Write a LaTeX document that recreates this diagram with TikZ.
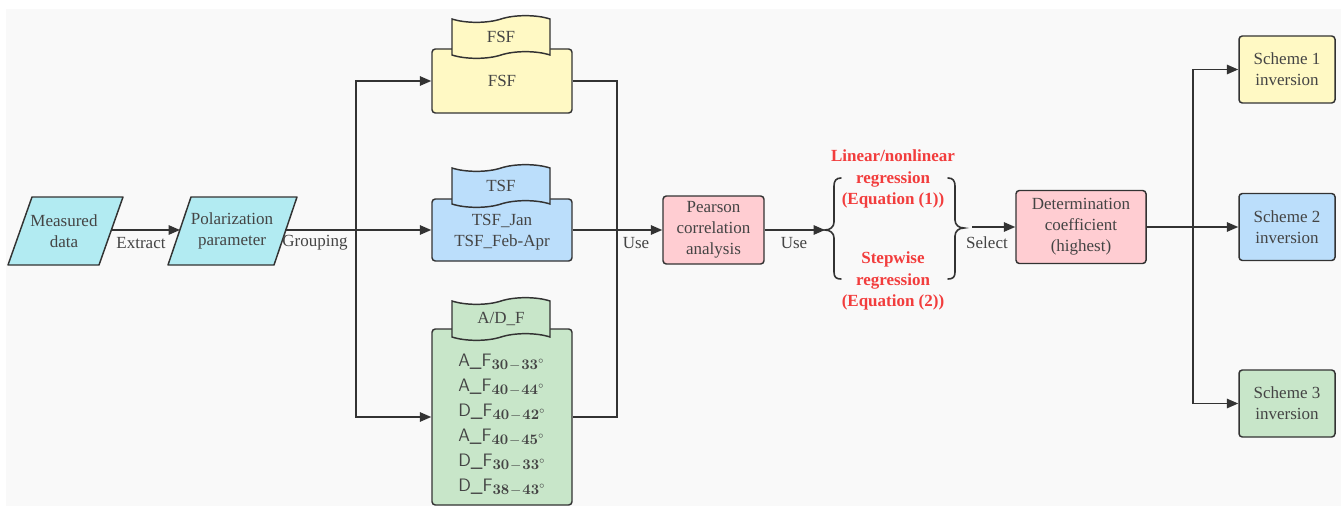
\documentclass[tikz,border=0pt]{standalone}
\usepackage[no-math]{fontspec}
\setmainfont{Liberation Serif}[Ligatures=TeX]
\usetikzlibrary{arrows.meta,shapes.symbols}
\definecolor{ink}{HTML}{333333}
\definecolor{txt}{HTML}{444444}
\definecolor{bgc}{HTML}{F9F9F9}
\definecolor{cyanf}{HTML}{B2EBF2}
\definecolor{yellowf}{HTML}{FFF9C4}
\definecolor{bluef}{HTML}{BBDEFB}
\definecolor{greenf}{HTML}{C8E6C9}
\definecolor{pinkf}{HTML}{FFCDD2}
\definecolor{redt}{RGB}{242,61,61}
% angle-range subscript: bold digits, tight minus, degree sign
\newcommand\angsub[2]{\raisebox{-2.2pt}{\fontsize{10.6}{12}\selectfont$\mathbf{#1}\mskip1mu{-}\mskip1mu\mathbf{#2}^{\circ}$}}
\begin{document}
\begin{tikzpicture}[x=0.75pt,y=-0.75pt,
  base/.style={text=txt,font=\fontsize{12.75}{15.75}\selectfont,align=center,inner sep=0pt},
  box/.style={base,draw=ink,line width=1.1pt,rounded corners=2.5pt},
  tag/.style={base,tape,draw=ink,line width=1.1pt,tape bend height=5pt,
    minimum width=73.5pt,minimum height=32pt},
  lbl/.style={base},
  redtxt/.style={base,text=redt,font=\bfseries\fontsize{12.75}{16.1}\selectfont},
  wire/.style={draw=ink,line width=1.2pt},
  arr/.style={wire,-{Triangle[length=8.5pt,width=7pt]}},
  para/.style={draw=ink,line width=1.1pt,fill=cyanf,line join=round}]

% page and backdrop
\fill[white] (0,0) rectangle (1341,506);
\fill[bgc] (6,9) rectangle (1341,506);
\useasboundingbox (0,0) rectangle (1341,506);

% input parallelograms
\draw[para] (32,197) -- (123,197) -- (99,265) -- (8,265) -- cycle;
\node[lbl] (md) at (64,231) {Measured\\data};
\coordinate (mdE) at (111,230);
\draw[para] (191,197) -- (297,197) -- (274,265) -- (168,265) -- cycle;
\node[lbl] (pp) at (232,231) {Polarization\\parameter};
\coordinate (ppW) at (180,230);
\coordinate (ppE) at (285,230);

% feature group boxes
\node[box,fill=yellowf,minimum width=105pt,minimum height=48pt] (fsf) at (502,81) {FSF};
\node[tag,fill=yellowf] (fsft) at (501,37) {FSF};

\node[box,fill=bluef,minimum width=105pt,minimum height=46.5pt] (tsf) at (502,230) {};
\node[base] (tsfx) at (502,232) {TSF\_Jan\\TSF\_Feb-Apr};
\node[tag,fill=bluef] (tsft) at (501,186) {TSF};

\node[box,fill=greenf,minimum width=105pt,minimum height=132pt] (adf) at (502,417) {};
\node[base,anchor=west,align=left,font=\sffamily\fontsize{13.5}{18.75}\selectfont] (adfx) at (458,425)
  {A\_F\angsub{30}{33}\\A\_F\angsub{40}{44}\\D\_F\angsub{40}{42}\\A\_F\angsub{40}{45}\\D\_F\angsub{30}{33}\\D\_F\angsub{38}{43}};
\node[tag,fill=greenf] (adft) at (501,319) {A/D\_F};

% analysis boxes
\node[box,fill=pinkf,minimum width=75.75pt,minimum height=51pt] (pear) at (713.5,230) {Pearson\\correlation\\analysis};
\node[box,fill=pinkf,minimum width=97.5pt,minimum height=54.75pt] (det) at (1081,227) {Determination\\coefficient\\(highest)};

% result boxes
\node[box,fill=yellowf,minimum width=72pt,minimum height=50.25pt] (s1) at (1287,69.5) {Scheme 1\\inversion};
\node[box,fill=bluef,minimum width=72pt,minimum height=50.25pt] (s2) at (1287,227) {Scheme 2\\inversion};
\node[box,fill=greenf,minimum width=72pt,minimum height=50.25pt] (s3) at (1287,403.5) {Scheme 3\\inversion};

% regression choices between braces
\node[redtxt] (reg1) at (893,179) {Linear/nonlinear\\regression\\(Equation (1))};
\node[redtxt] (reg2) at (893,281) {Stepwise\\regression\\(Equation (2))};
\draw[wire,line cap=round] (841,178) .. controls (836,178) and (834,181) .. (834,186) -- (834,222)
  .. controls (834,227) and (830,230) .. (825,230) .. controls (830,230) and (834,233) .. (834,238)
  -- (834,272) .. controls (834,277) and (836,279) .. (841,279);
\draw[wire,line cap=round] (948,178) .. controls (953,178) and (955,181) .. (955,186) -- (955,220)
  .. controls (955,225) and (959,228) .. (964,228) .. controls (959,228) and (955,231) .. (955,236)
  -- (955,272) .. controls (955,277) and (953,279) .. (948,279);
\coordinate (brL) at (825,230);
\coordinate (brR) at (972,227);

% connectors
\draw[arr] (mdE) -- (ppW);
\coordinate (j1) at (356,230);
\draw[wire] (ppE) -- (j1);
\draw[arr] (j1) |- (fsf.west);
\draw[arr] (j1) -- (tsf.west);
\draw[arr] (j1) |- (adf.west);

\coordinate (j2) at (617,417);
\draw[wire] (fsf.east) -| (j2) -- (adf.east);
\draw[arr] (tsf.east) -- (pear.west);
\draw[arr] (pear.east) -- (brL);
\draw[arr] (brR) -- (det.west);

\coordinate (j3) at (1193,227);
\draw[wire] (det.east) -- (j3);
\draw[arr] (j3) |- (s1.west);
\draw[arr] (j3) -- (s2.west);
\draw[arr] (j3) |- (s3.west);

% connector labels
\node[lbl] (lExtract) at (141,243) {Extract};
\node[lbl] (lGroup) at (315,243) {Grouping};
\node[lbl] (lUse1) at (636,243) {Use};
\node[lbl] (lUse2) at (794,243) {Use};
\node[lbl] (lSel) at (987,243) {Select};
\end{tikzpicture}
\end{document}
